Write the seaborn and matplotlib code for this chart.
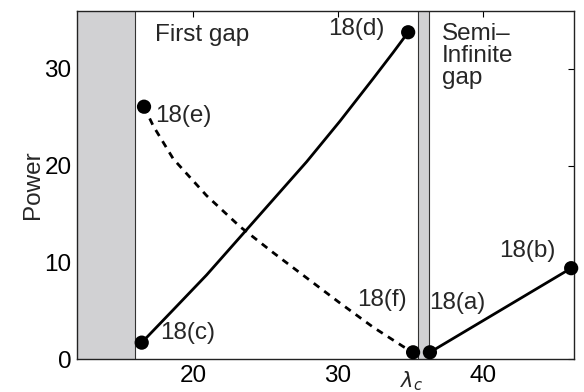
import matplotlib
matplotlib.use("Agg")
import matplotlib.pyplot as plt
import matplotlib.transforms as mtransforms
import seaborn as sns
import pandas as pd

# solid branch 18(c) -> 18(d)
solid_x = [16.46, 18.64, 20.94, 23.24, 25.54, 27.84, 30.14, 32.43, 33.81, 34.85]
solid_y = [1.7, 5.1, 8.7, 12.6, 16.5, 20.4, 24.6, 29.0, 31.7, 33.8]
# dashed branch 18(e) -> 18(f)
dashed_x = [16.62, 17.26, 18.64, 20.94, 23.24, 25.54, 27.84, 30.14, 32.43, 34.5, 35.19]
dashed_y = [26.1, 24.1, 20.7, 16.9, 13.7, 11.0, 8.4, 5.8, 3.3, 1.3, 0.7]
# semi-infinite gap branch 18(a) -> 18(b)
right_x = [36.35, 46.1]
right_y = [0.7, 9.4]

end_x = [16.46, 34.85, 16.62, 35.19, 36.35, 46.1]
end_y = [1.7, 33.8, 26.1, 0.7, 0.7, 9.4]
end_names = ["18(c)", "18(d)", "18(e)", "18(f)", "18(a)", "18(b)"]

# shaded regions
band1 = (12.0, 16.0)
band2 = (35.5, 36.3)

x_ticks = [20, 30, 40]
y_ticks = [0, 10, 20, 30]

sns.set_theme(style="white")
plt.rcParams['font.family'] = ['Liberation Sans', 'DejaVu Sans']

fig = plt.figure(figsize=(5.84, 3.92), dpi=100)
ax = fig.add_axes([0.132, 0.084, 0.851, 0.888])

gray = "#d1d1d3"
for lo, hi in (band1, band2):
    ax.axvspan(lo, hi, facecolor=gray, edgecolor="none", zorder=0)
    ax.axvline(hi, color="#333333", lw=0.8, zorder=1)
ax.axvline(band2[0], color="#333333", lw=0.8, zorder=1)

lw = 2.0
sns.lineplot(x=solid_x, y=solid_y, ax=ax, color="black", lw=lw, sort=False)
sns.lineplot(x=dashed_x, y=dashed_y, ax=ax, color="black", lw=lw, sort=False,
             linestyle=(0, (2.5, 2.2)))
sns.lineplot(x=right_x, y=right_y, ax=ax, color="black", lw=lw, sort=False)

pts = pd.DataFrame({"x": end_x, "y": end_y, "name": end_names})
sns.scatterplot(data=pts, x="x", y="y", ax=ax, color="black", s=105,
                edgecolor="none", zorder=5, clip_on=False)

fs = 17.5
label_pos = {
    "18(c)": (17.7, 2.7, "left"),
    "18(d)": (33.2, 34.1, "right"),
    "18(e)": (17.4, 25.1, "left"),
    "18(f)": (34.76, 6.1, "right"),
    "18(a)": (36.3, 5.8, "left"),
    "18(b)": (45.0, 11.2, "right"),
}
for name in end_names:
    tx, ty, ha = label_pos[name]
    ax.text(tx, ty, name, ha=ha, va="center", fontsize=fs)

ax.text(17.4, 32.9, "First gap", ha="left", va="baseline", fontsize=fs)
ax.text(37.2, 34.8, "Semi\u2013\nInfinite\ngap", ha="left", va="top",
        fontsize=fs, linespacing=1.0)

ax.set_xlim(12.0, 46.3)
ax.set_ylim(0, 36)
ax.set_xticks(x_ticks)
ax.set_yticks(y_ticks)
ax.tick_params(direction="in", length=4, width=0.8, top=True, right=True,
               labelsize=fs, pad=4, colors="black")
ax.set_xlabel("")
ax.set_ylabel("Power", fontsize=fs, labelpad=0)

# lambda marker under the axis
trans = mtransforms.blended_transform_factory(ax.transData, ax.transAxes)
ax.plot([35.1, 35.1], [0, 0.012], color="black", lw=0.8, transform=trans)
ax.text(35.1, -0.03, r"$\lambda_c$", ha="center", va="top", fontsize=15,
        transform=trans)

for sp in ax.spines.values():
    sp.set_color("#222222")
    sp.set_linewidth(1.0)

fig.savefig("out.png", dpi=100)
